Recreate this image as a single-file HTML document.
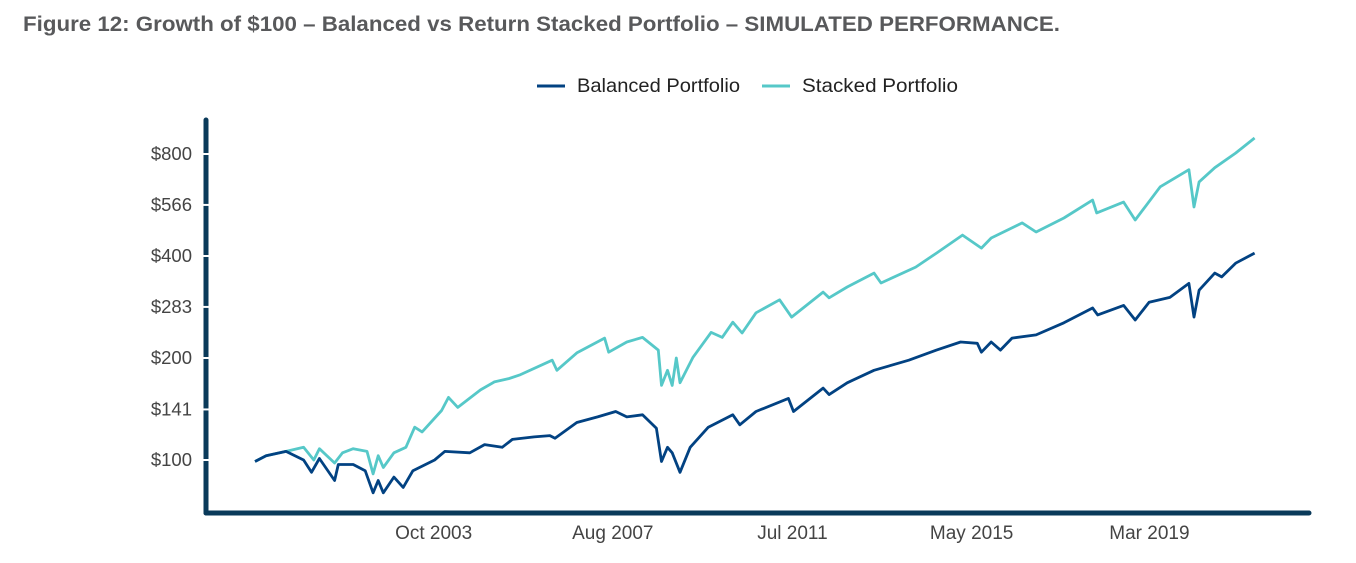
<!DOCTYPE html>
<html><head><meta charset="utf-8"><style>
body{margin:0;background:#fff;width:1356px;height:558px;overflow:hidden;font-family:"Liberation Sans",sans-serif}
</style></head><body>
<svg width="1356" height="558" xmlns="http://www.w3.org/2000/svg">
<text x="23" y="31" font-size="19" font-weight="bold" fill="#58595b" textLength="1037" lengthAdjust="spacingAndGlyphs" style="font-size:21.5px">Figure 12: Growth of $100 – Balanced vs Return Stacked Portfolio – SIMULATED PERFORMANCE.</text>
<g>
<g><line x1="537" y1="86" x2="565" y2="86" stroke="#024282" stroke-width="3"/><text x="577" y="92" font-size="19.5" fill="#222" textLength="163" lengthAdjust="spacingAndGlyphs">Balanced Portfolio</text></g>
<g><line x1="762" y1="86" x2="790" y2="86" stroke="#56c8c8" stroke-width="3"/><text x="802" y="92" font-size="19.5" fill="#222" textLength="156" lengthAdjust="spacingAndGlyphs">Stacked  Portfolio</text></g>
</g>
<g id="plot"></g>
<line x1="206" y1="120" x2="206" y2="513" stroke="#0a3a5a" stroke-width="5" stroke-linecap="round"/>
<line x1="206" y1="513" x2="1309" y2="513" stroke="#0a3a5a" stroke-width="5" stroke-linecap="round"/>
<g id="yt"></g>
<g id="xt"></g>
</svg>
<script>
const balYears=[2000.0,2000.24,2000.67,2001.05,2001.22,2001.39,2001.72,2001.8,2002.12,2002.38,2002.55,2002.66,2002.77,2003.0,2003.2,2003.41,2003.88,2004.1,2004.64,2004.96,2005.34,2005.56,2006.03,2006.37,2006.48,2006.95,2007.4,2007.79,2008.03,2008.37,2008.67,2008.78,2008.91,2009.01,2009.18,2009.4,2009.79,2010.32,2010.47,2010.82,2011.52,2011.63,2012.27,2012.4,2012.79,2013.37,2014.12,2014.72,2015.24,2015.6,2015.69,2015.9,2016.1,2016.35,2016.87,2017.47,2018.09,2018.2,2018.76,2019.01,2019.31,2019.76,2020.17,2020.28,2020.39,2020.73,2020.88,2021.18,2021.59];
const balValues=[99,103,106,100,92,101,87,97,97,93,80,87,80,89,83,93,100,106,105,111,109,115,117,118,116,129,134,139,134,136,124,99,109,105,92,109,125,136,127,139,152,139,163,156,169,184,197,211,223,221,208,223,211,229,234,254,281,268,286,259,292,302,332,264,317,356,347,381,408];
const stkYears=[2000.0,2000.24,2000.67,2001.05,2001.27,2001.39,2001.72,2001.89,2002.12,2002.42,2002.55,2002.66,2002.77,2003.0,2003.26,2003.45,2003.61,2004.03,2004.18,2004.38,2004.87,2005.17,2005.49,2005.71,2006.42,2006.52,2006.95,2007.55,2007.64,2008.03,2008.37,2008.71,2008.78,2008.91,2009.01,2009.1,2009.18,2009.46,2009.85,2010.09,2010.32,2010.52,2010.82,2011.33,2011.59,2012.27,2012.4,2012.79,2013.37,2013.52,2014.27,2014.72,2015.28,2015.69,2015.9,2016.57,2016.87,2017.47,2018.09,2018.18,2018.76,2019.01,2019.55,2020.17,2020.28,2020.39,2020.73,2021.18,2021.59];
const stkValues=[99,103,106,109,100,108,98,105,108,106,91,103,95,105,109,125,121,140,153,143,161,170,174,178,197,184,207,229,208,223,230,211,166,184,166,200,169,201,238,230,255,237,272,297,264,313,301,324,356,333,371,408,461,422,452,501,471,518,585,536,577,511,640,719,558,662,729,805,892];
const yTickValues=[100,141,200,283,400,566,800];
const yTickLabels=["$100","$141","$200","$283","$400","$566","$800"];
const xTickYears=[2003.75,2007.62,2011.5,2015.37,2019.21];
const xTickLabels=["Oct 2003","Aug 2007","Jul 2011","May 2015","Mar 2019"];
const NS="http://www.w3.org/2000/svg";
function xs(yr){return 255+(yr-2000)*46.3;}
function ys(v){return 460-102*Math.log2(v/100);}
const plot=document.getElementById('plot');
function line(years,vals,color,name){
  const p=document.createElementNS(NS,'path');
  p.setAttribute('d',years.map((y,i)=>(i?'L':'M')+xs(y).toFixed(1)+','+ys(vals[i]).toFixed(1)).join(''));
  p.setAttribute('fill','none');p.setAttribute('stroke',color);p.setAttribute('stroke-width','2.8');p.setAttribute('stroke-linejoin','round');
  
  
  plot.appendChild(p);
}
line(stkYears,stkValues,'#56c8c8','stacked-portfolio-line');
line(balYears,balValues,'#024282','balanced-portfolio-line');
const yt=document.getElementById('yt');
yTickValues.forEach((v,i)=>{
  const g=document.createElementNS(NS,'line');
  g.setAttribute('x1','202');g.setAttribute('x2','210');g.setAttribute('y1',ys(v));g.setAttribute('y2',ys(v));
  g.setAttribute('stroke','#fff');g.setAttribute('stroke-width','2');
  
  
  yt.appendChild(g);
  const t=document.createElementNS(NS,'text');
  t.setAttribute('x','192');t.setAttribute('y',ys(v)+6);t.setAttribute('text-anchor','end');
  t.setAttribute('font-size','18.5');t.setAttribute('fill','#444');t.textContent=yTickLabels[i];
  
  
  yt.appendChild(t);
});
const xt=document.getElementById('xt');
xTickYears.forEach((yr,i)=>{
  const t=document.createElementNS(NS,'text');
  t.setAttribute('x',xs(yr)+5);t.setAttribute('y','539');t.setAttribute('text-anchor','middle');
  t.setAttribute('font-size','19');t.setAttribute('fill','#444');t.textContent=xTickLabels[i];
  
  
  xt.appendChild(t);
});
</script>
</body></html>
